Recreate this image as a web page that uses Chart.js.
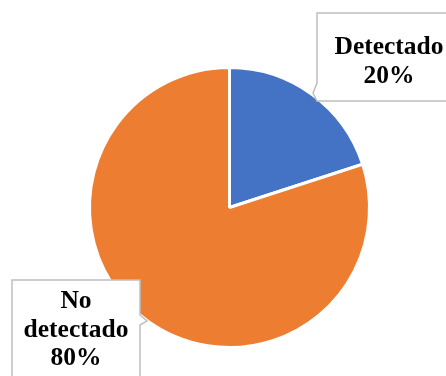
<!DOCTYPE html>
<html lang="es">
<head>
    <meta charset="UTF-8">
    <title>Detectado / No detectado</title>
    <script src="https://cdn.jsdelivr.net/npm/chart.js"></script>
    <style>
        body { margin: 0; padding: 0; background: #fff; }
        canvas { display: block; }
    </style>
</head>
<body>
    <canvas id="pieChart" width="446" height="376"></canvas>
    <script>
        const labels = ['Detectado', 'No detectado'];
        const values = [20, 80];
        const colors = ['#4472C4', '#ED7D31'];

        // callout boxes: box rect, line breaks of the label, tail tip
        const callouts = [
            { x: 317, y: 13, w: 132, h: 88, lines: ['Detectado'], cx: 389, y0: 54,
              tail: [[317, 83], [313, 93], [317, 101]], side: 'left' },
            { x: 12, y: 280, w: 128, h: 100, lines: ['No', 'detectado'], cx: 76, y0: 308,
              tail: [[140, 315], [147, 321], [140, 325]], side: 'right' }
        ];

        const calloutPlugin = {
            id: 'callouts',
            afterDraw(chart) {
                const ctx = chart.ctx;
                const total = values.reduce((a, b) => a + b, 0);
                callouts.forEach((c, i) => {
                    ctx.save();
                    ctx.beginPath();
                    ctx.moveTo(c.x, c.y);
                    ctx.lineTo(c.x + c.w, c.y);
                    if (c.side === 'right') {
                        ctx.lineTo(c.tail[0][0], c.tail[0][1]);
                        ctx.lineTo(c.tail[1][0], c.tail[1][1]);
                        ctx.lineTo(c.tail[2][0], c.tail[2][1]);
                    }
                    ctx.lineTo(c.x + c.w, c.y + c.h);
                    ctx.lineTo(c.x, c.y + c.h);
                    if (c.side === 'left') {
                        ctx.lineTo(c.tail[2][0], c.tail[2][1]);
                        ctx.lineTo(c.tail[1][0], c.tail[1][1]);
                        ctx.lineTo(c.tail[0][0], c.tail[0][1]);
                    }
                    ctx.closePath();
                    ctx.fillStyle = '#fff';
                    ctx.fill();
                    ctx.strokeStyle = '#BFBFBF';
                    ctx.lineWidth = 1.5;
                    ctx.stroke();

                    const pct = Math.round(values[i] / total * 100) + '%';
                    const lines = c.lines.concat([pct]);
                    ctx.fillStyle = '#000';
                    ctx.font = 'bold 25.5px "Liberation Serif", "Times New Roman", serif';
                    ctx.textAlign = 'center';
                    ctx.textBaseline = 'alphabetic';
                    lines.forEach((t, k) => ctx.fillText(t, c.cx, c.y0 + k * 28.5));
                    ctx.restore();
                });
            }
        };

        new Chart(document.getElementById('pieChart'), {
            type: 'pie',
            data: {
                labels: labels,
                datasets: [{
                    data: values,
                    backgroundColor: colors,
                    borderColor: '#fff',
                    borderWidth: 3
                }]
            },
            options: {
                responsive: false,
                animation: false,
                layout: { padding: { left: 88, right: 75, top: 66, bottom: 27 } },
                plugins: {
                    legend: { display: false },
                    tooltip: { enabled: false }
                }
            },
            plugins: [calloutPlugin]
        });
    </script>
</body>
</html>
